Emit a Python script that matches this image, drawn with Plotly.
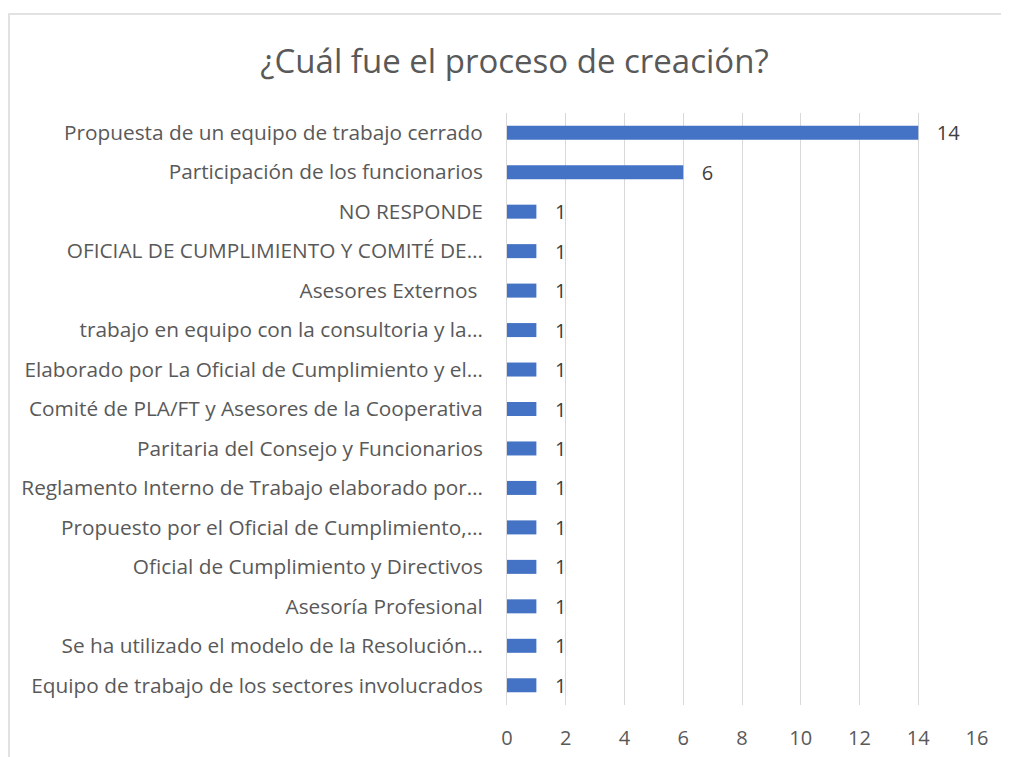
import plotly.graph_objs as go

categories = [
    'Propuesta de un equipo de trabajo cerrado',
    'Participación de los funcionarios',
    'NO RESPONDE',
    'OFICIAL DE CUMPLIMIENTO Y COMITÉ DE…',
    'Asesores Externos ',
    'trabajo en equipo con la consultoria y la…',
    'Elaborado por La Oficial de Cumplimiento y el…',
    'Comité de PLA/FT y Asesores de la Cooperativa',
    'Paritaria del Consejo y Funcionarios',
    'Reglamento Interno de Trabajo elaborado por…',
    'Propuesto por el Oficial de Cumplimiento,…',
    'Oficial de Cumplimiento y Directivos',
    'Asesoría Profesional',
    'Se ha utilizado el modelo de la Resolución…',
    'Equipo de trabajo de los sectores involucrados',
]
counts = [14, 6, 1, 1, 1, 1, 1, 1, 1, 1, 1, 1, 1, 1, 1]
x_ticks = [0, 2, 4, 6, 8, 10, 12, 14, 16]

textColor = '#595959'
fontName = 'Open Sans'

# page body adds ~8px offset, so the figure is sized/shifted to compensate
W, H = 1001, 749
L, R, T, B = 499, 32, 105, 52
pw, ph = W - L - R, H - T - B

fig = go.Figure()
fig.add_trace(
    go.Bar(
        x=counts, y=categories, orientation='h',
        marker=dict(color='#4472C4', line=dict(width=0)),
        text=counts, texttemplate='   %{text}', textposition='outside',
        constraintext='none',
        textfont=dict(color='#404040', size=20, family=fontName),
        cliponaxis=False,
    )
)

fig.update_xaxes(
    range=[0, 16], tickvals=x_ticks, showgrid=True, gridcolor='#d9d9d9', gridwidth=1,
    zeroline=False, showline=False, ticks='', ticklabelstandoff=19, automargin=False,
    tickfont=dict(size=20, color=textColor, family=fontName),
)
fig.update_yaxes(
    autorange='reversed', showgrid=False, zeroline=False,
    showline=True, linecolor='#d9d9d9', linewidth=1, automargin=False,
    ticks='', ticklabelstandoff=19,
    tickfont=dict(size=20.8, color=textColor, family=fontName),
)

fig.update_layout(
    title=dict(text='¿Cuál fue el proceso de creación?', x=0.506, xanchor='center',
               y=0.928, yanchor='middle', xref='container', yref='container',
               font=dict(size=33, color=textColor, family=fontName)),
    width=W, height=H,
    margin=dict(l=L, r=R, t=T, b=B),
    bargap=0.645,
    plot_bgcolor='white', paper_bgcolor='white',
    showlegend=False,
    shapes=[dict(type='rect', xref='paper', yref='paper',
                 x0=(1 - L) / pw, x1=(W + 10 - L) / pw,
                 y0=-(B + 10) / ph, y1=(ph + T - 6) / ph,
                 line=dict(color='#d9d9d9', width=1.5), layer='below')],
)

fig.write_html("out.html")
